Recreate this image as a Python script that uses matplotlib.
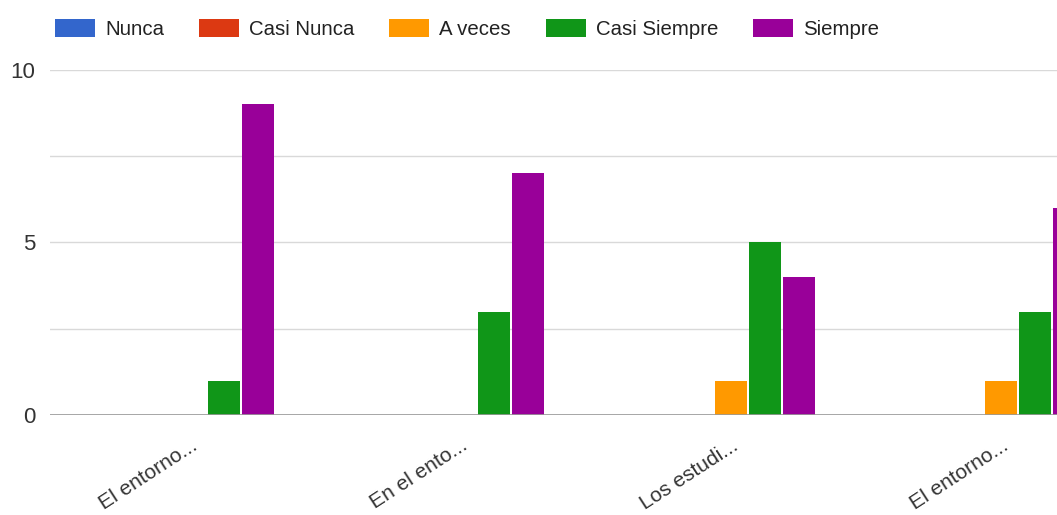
import numpy as np
import matplotlib
matplotlib.use('Agg')
import matplotlib.pyplot as plt
from matplotlib.patches import Patch

plt.rcParams['font.family'] = ['Liberation Sans', 'DejaVu Sans']

categorias = ['El entorno...', 'En el ento...', 'Los estudi...', 'El entorno...']
series = ['Nunca', 'Casi Nunca', 'A veces', 'Casi Siempre', 'Siempre']
nunca = [0, 0, 0, 0]
casi_nunca = [0, 0, 0, 0]
a_veces = [0, 0, 1, 1]
casi_siempre = [1, 3, 5, 3]
siempre = [9, 7, 4, 6]
valores = [nunca, casi_nunca, a_veces, casi_siempre, siempre]
colores = ['#3366cc', '#dc3912', '#ff9900', '#109618', '#990099']

fig = plt.figure(figsize=(10.57, 5.15), dpi=100)
ax = fig.add_axes([50 / 1057, 1 - 415 / 515, 1 - 50 / 1057, 345 / 515])

x = np.arange(len(categorias))
paso = 0.1258
ancho = 0.119
for j, (vals, c) in enumerate(zip(valores, colores)):
    ax.bar(x + (j - 2) * paso, vals, width=ancho, color=c, zorder=3)

ax.set_ylim(0, 10)
ax.set_xlim(-0.518, 3.207)
ax.set_yticks([0, 5, 10])
ax.set_yticks([2.5, 7.5], minor=True)
ax.grid(axis='y', which='both', color='#d9d9d9', linewidth=1, zorder=0)
ax.axhline(0, color='#999999', linewidth=1.2, zorder=4)
for s in ax.spines.values():
    s.set_visible(False)
ax.tick_params(axis='both', which='both', length=0)
ax.tick_params(axis='y', labelsize=16, colors='#333333', pad=10.8)
ax.set_xticks(x)
ax.set_xticklabels(categorias, rotation=33, ha='right', rotation_mode='anchor',
                   fontsize=15, color='#333333')
ax.tick_params(axis='x', pad=15)

handles = [Patch(facecolor=c, label=s) for s, c in zip(series, colores)]
fig.legend(handles=handles, loc='center left', bbox_to_anchor=(55 / 1057, 1 - 29 / 515),
           ncol=5, frameon=False, fontsize=14.7, handlelength=1.96, handleheight=0.98,
           handletextpad=0.49, columnspacing=1.71, borderpad=0, borderaxespad=0,
           labelcolor='#222222')

fig.savefig('out.png', dpi=100)
